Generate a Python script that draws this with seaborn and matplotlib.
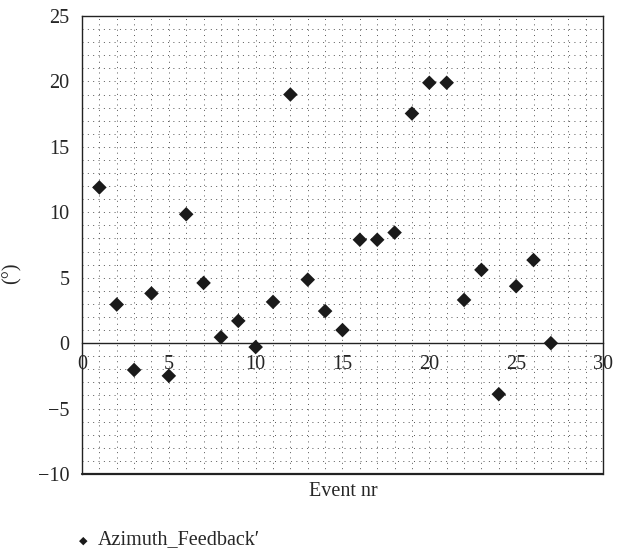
import matplotlib
matplotlib.use("Agg")
import matplotlib.pyplot as plt
from matplotlib.ticker import MultipleLocator
import seaborn as sns
import pandas as pd

event_nr = list(range(1, 28))
azimuth = [11.9, 2.95, -2.05, 3.8, -2.5, 9.85, 4.6, 0.45, 1.7, -0.3,
           3.15, 19.0, 4.85, 2.45, 1.0, 7.9, 7.9, 8.45, 17.55, 19.9,
           19.9, 3.3, 5.6, -3.9, 4.35, 6.35, 0.0]
series_name = "Azimuth_Feedback\u2032"
x_ticks = [0, 5, 10, 15, 20, 25, 30]
y_ticks = [-10, -5, 0, 5, 10, 15, 20, 25]

df = pd.DataFrame({"Event nr": event_nr, "value": azimuth, "series": series_name})

sns.set_style("white")
plt.rcParams["font.family"] = ["Liberation Serif", "DejaVu Serif"]

FS = 14.5

fig = plt.figure(figsize=(6.18, 5.52), dpi=100)
ax = fig.add_axes([0.1327, 0.1413, 0.843, 0.8297])

sns.scatterplot(data=df, x="Event nr", y="value", hue="series",
                palette=["#1a1a1a"], marker="D", s=55, linewidth=0,
                ax=ax, legend=False, zorder=3)

ax.set_xlim(0, 30)
ax.set_ylim(-10, 25)
ax.set_xticks(x_ticks)
ax.set_yticks(y_ticks)
ax.set_yticklabels([("\u2212" + str(-v)) if v < 0 else str(v) for v in y_ticks])
ax.xaxis.set_minor_locator(MultipleLocator(1))
ax.yaxis.set_minor_locator(MultipleLocator(1))
ax.grid(which="both", linestyle=(0, (1, 4.5)), linewidth=0.7, color="#555555")
ax.tick_params(which="minor", length=0)
ax.tick_params(axis="y", which="major", labelsize=FS, length=3, width=0.8,
               color="#222222", direction="out", pad=6)
ax.tick_params(axis="x", which="major", labelsize=FS, length=5, width=0.8,
               color="#222222", direction="inout", pad=6)

for side in ["top", "right", "left", "bottom"]:
    ax.spines[side].set_visible(True)
    ax.spines[side].set_color("#222222")
    ax.spines[side].set_linewidth(1.0)
ax.spines["bottom"].set_position(("data", 0))
ax.axhline(-10, color="#222222", linewidth=1.6, clip_on=False, zorder=4)

ax.set_xlabel("")
ax.set_ylabel("")
fig.text(0.019, 0.505, "(\u00b0)", ha="center", va="center", rotation=90, fontsize=FS)
fig.text(0.5555, 0.109, "Event nr", ha="center", va="center", fontsize=FS)

# legend
fig.text(0.134, 0.020, "\u25c6", ha="center", va="center", fontsize=8, color="#1a1a1a")
fig.text(0.158, 0.022, series_name, ha="left", va="center", fontsize=FS)

fig.savefig("out.png", dpi=100)
